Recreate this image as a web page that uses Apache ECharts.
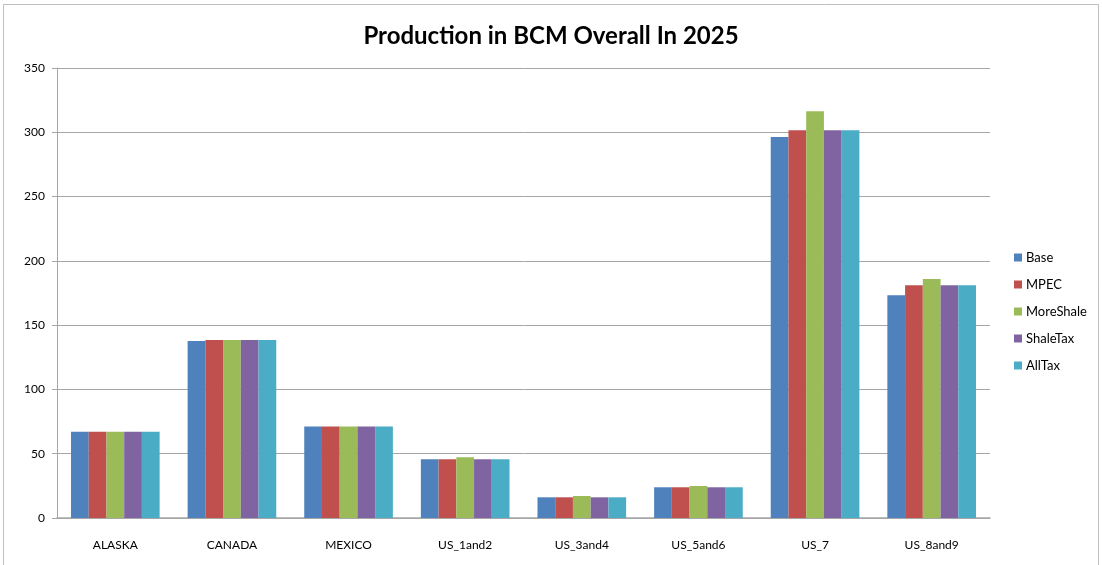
<!DOCTYPE html>
<html><head><meta charset="utf-8">
<script src="https://cdn.jsdelivr.net/npm/echarts@6/dist/echarts.min.js"></script>
<style>html,body{margin:0;padding:0;background:#fff}#c{width:1102px;height:565px}</style>
</head><body><div id="c"></div>
<script>
const categories = ['ALASKA','CANADA','MEXICO','US_1and2','US_3and4','US_5and6','US_7','US_8and9'];
const seriesNames = ['Base','MPEC','MoreShale','ShaleTax','AllTax'];
const base      = [67, 137.7, 71.2, 45.6, 16.1, 23.9, 296.3, 173.2];
const mpec      = [67, 138.5, 71.2, 45.6, 16.1, 23.9, 301.5, 181];
const moreShale = [67, 138.5, 71.2, 47.2, 17.1, 24.9, 316.3, 185.9];
const shaleTax  = [67, 138.5, 71.2, 45.6, 16.1, 23.9, 301.5, 181];
const allTax    = [67, 138.5, 71.2, 45.6, 16.1, 23.9, 301.5, 181];
const yTicks = [0, 50, 100, 150, 200, 250, 300, 350];
const colors = ['#4F81BD','#C0504D','#9BBB59','#8064A2','#4BACC6'];
const values = [base, mpec, moreShale, shaleTax, allTax];

const chart = echarts.init(document.getElementById('c'));
chart.setOption({
  animation: false,
  color: colors,
  title: {
    text: 'Production in BCM Overall In 2025',
    left: 'center', top: 19,
    textStyle: {fontFamily: 'Lato', fontWeight: 'bold', fontSize: 24, color: '#000'}
  },
  graphic: [{type:'rect', shape:{x:3.5,y:4.5,width:1095,height:570}, style:{fill:'none', stroke:'#bfbfbf', lineWidth:1}, silent:true}],
  legend: {
    orient: 'vertical', left: 1009, top: 246, itemGap: 14,
    itemWidth: 8, itemHeight: 8, icon: 'rect',
    textStyle: {fontFamily: 'Lato', fontSize: 13, color: '#000', padding:[0,0,0,-1]},
    data: seriesNames
  },
  grid: {left: 57, right: 112, top: 68, bottom: 47},
  xAxis: {
    type: 'category', data: categories,
    axisLine: {lineStyle: {color: '#a6a6a6', width: 1.5}},
    axisTick: {show: false},
    axisLabel: {color: '#000', fontFamily: 'Lato', fontSize: 12, margin: 21}
  },
  yAxis: {
    type: 'value', min: yTicks[0], max: yTicks[yTicks.length-1], interval: 50,
    axisLine: {show: true, lineStyle: {color: '#a6a6a6'}},
    axisTick: {show: true, length: 5, lineStyle: {color: '#a6a6a6'}},
    splitLine: {lineStyle: {color: '#a6a6a6', width: 1}},
    axisLabel: {color: '#000', fontFamily: 'Lato', fontSize: 12, margin: 12}
  },
  series: seriesNames.map((n, i) => ({
    name: n, type: 'bar', data: values[i],
    barGap: '0%', barCategoryGap: '24%',
    itemStyle: {color: colors[i]}
  }))
});
</script></body></html>
